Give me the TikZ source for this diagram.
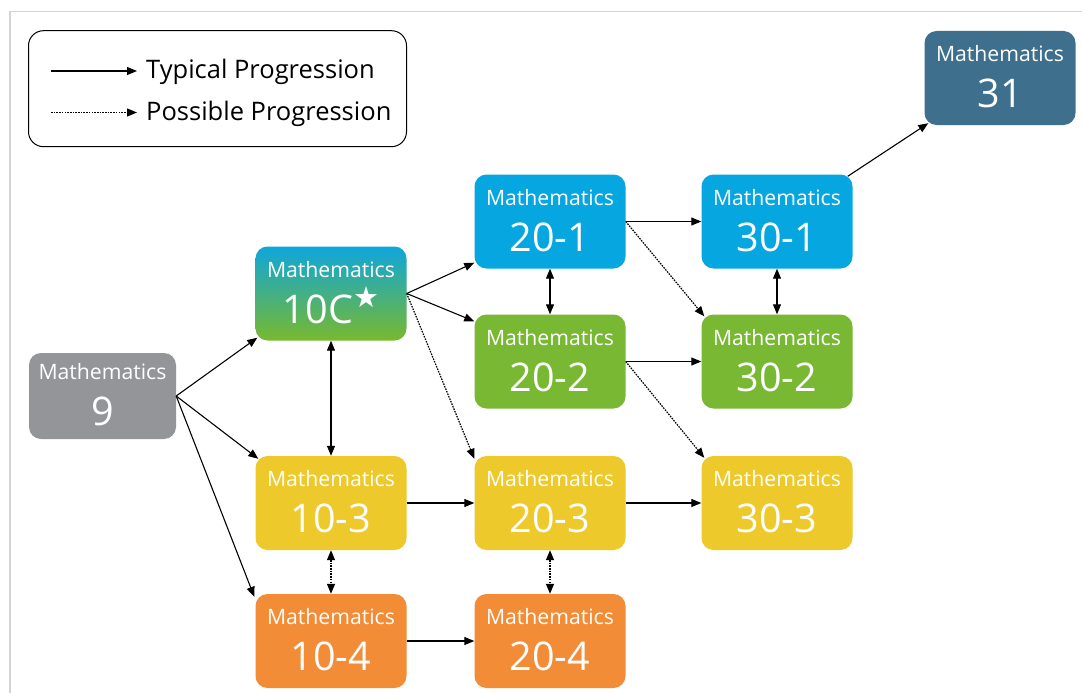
\documentclass[tikz,border=0pt]{standalone}
\usepackage{fontspec}
\setmainfont{Open Sans}
\newfontfamily\symfont{DejaVu Sans}
\usetikzlibrary{arrows.meta}

\definecolor{pagegray}{HTML}{D4D4D4}
\definecolor{mgray}{HTML}{939598}
\definecolor{mcyan}{HTML}{06A6E0}
\definecolor{mgreen}{HTML}{78B833}
\definecolor{myellow}{HTML}{EEC92B}
\definecolor{morange}{HTML}{F28C36}
\definecolor{mnavy}{HTML}{3E6F8C}
\definecolor{gradtop}{HTML}{0FA6DB}
\definecolor{gradbot}{HTML}{78B92E}

\tikzset{
  course/.style={rounded corners=12pt, minimum width=151pt, minimum height=94pt,
    inner sep=0pt, draw=none},
  ctitle/.style={anchor=base, text=white, inner sep=0pt,
    font=\fontsize{21.2}{21.2}\selectfont},
  cnum/.style={anchor=base, text=white, inner sep=0pt,
    font=\fontsize{39.5}{39.5}\selectfont},
  tip/.tip={Triangle[length=10pt,width=8pt]},
  typical/.style={line width=1.1pt, -tip},
  possible/.style={typical, line width=1.2pt, dash pattern=on 1.6pt off 1.1pt},
  twoway/.style={line width=1.1pt, tip-tip},
  twowaydot/.style={twoway, line width=1.2pt, dash pattern=on 1.6pt off 1.1pt},
  legendbox/.style={draw=black, line width=1pt, rounded corners=15pt,
    minimum width=378pt, minimum height=116pt, inner sep=0pt},
  legendtext/.style={anchor=base west, inner sep=0pt,
    font=\fontsize{25.5}{25.5}\selectfont},
}

% one course box: name, x, y, fill options, course number
\newcommand\course[5]{%
  \node[course, #4] (#1) at (#2,#3) {};
  \node[ctitle] (#1-t) at ([yshift=16.5pt]#1.center) {Mathematics};
  \node[cnum] (#1-n) at ([yshift=-29.5pt]#1.center) {#5};
}

\begin{document}
\begin{tikzpicture}[x=1pt, y=-1pt]
\useasboundingbox (0,0) rectangle (1082,693);
\fill[white] (0,0) rectangle (1082,693);
\draw[pagegray, line width=1.3pt] (10,693) -- (10,11.5) -- (1082,11.5);

% legend
\node[legendbox] (legend) at (217.5,88.7) {};
\coordinate (typA) at (51,71);
\coordinate (typB) at (137,71);
\coordinate (posA) at (51,112.5);
\coordinate (posB) at (137,112.5);
\draw[typical] (typA) -- (typB);
\draw[possible] (posA) -- (posB);
\node[legendtext] (typT) at (146,78) {Typical Progression};
\node[legendtext] (posT) at (146,120) {Possible Progression};

% courses
\course{m9}{102.5}{396}{fill=mgray, minimum width=147pt, minimum height=86pt}{9}
\course{m10c}{331}{293.5}{top color=gradtop, bottom color=gradbot}%
  {10C\kern0pt\raisebox{16pt}{\fontsize{29}{29}\symfont ★}}
\course{m103}{331}{503}{fill=myellow}{10-3}
\course{m104}{331}{641}{fill=morange}{10-4}
\course{m201}{550}{221.5}{fill=mcyan}{20-1}
\course{m202}{550}{361.5}{fill=mgreen}{20-2}
\course{m203}{550}{503}{fill=myellow}{20-3}
\course{m204}{550}{641}{fill=morange}{20-4}
\course{m301}{777}{221.5}{fill=mcyan}{30-1}
\course{m302}{777}{361.5}{fill=mgreen}{30-2}
\course{m303}{777}{503}{fill=myellow}{30-3}
\course{m31}{1000}{78}{fill=mnavy}{31}

% progressions
\draw[typical] (m9.east) -- ([shift={(2,-3)}]m10c.south west);
\draw[typical] (m9.east) -- ([shift={(3,3)}]m103.north west);
\draw[typical] (m9.east) -- ([shift={(-1,3)}]m104.north west);

\draw[typical] (m10c.east) -- ([shift={(0,-6)}]m201.south west);
\draw[typical] (m10c.east) -- ([shift={(0,7)}]m202.north west);
\draw[possible] (m10c.east) -- ([shift={(0,3)}]m203.north west);
\draw[twoway] (m10c.south) -- (m103.north);
\draw[twowaydot] (m103.south) -- (m104.north);
\draw[typical] (m103.east) -- (m203.west);
\draw[typical] (m104.east) -- (m204.west);

\draw[twoway] (m201.south) -- (m202.north);
\draw[twowaydot] (m203.south) -- (m204.north);
\draw[typical] (m201.east) -- (m301.west);
\draw[possible] (m201.east) -- ([shift={(3,2)}]m302.north west);
\draw[typical] (m202.east) -- (m302.west);
\draw[possible] (m202.east) -- ([shift={(3,2)}]m303.north west);
\draw[typical] (m203.east) -- (m303.west);

\draw[twoway] (m301.south) -- (m302.north);
\draw[typical] ([shift={(-5,2)}]m301.north east) -- ([shift={(4,-2)}]m31.south west);
\end{tikzpicture}
\end{document}
